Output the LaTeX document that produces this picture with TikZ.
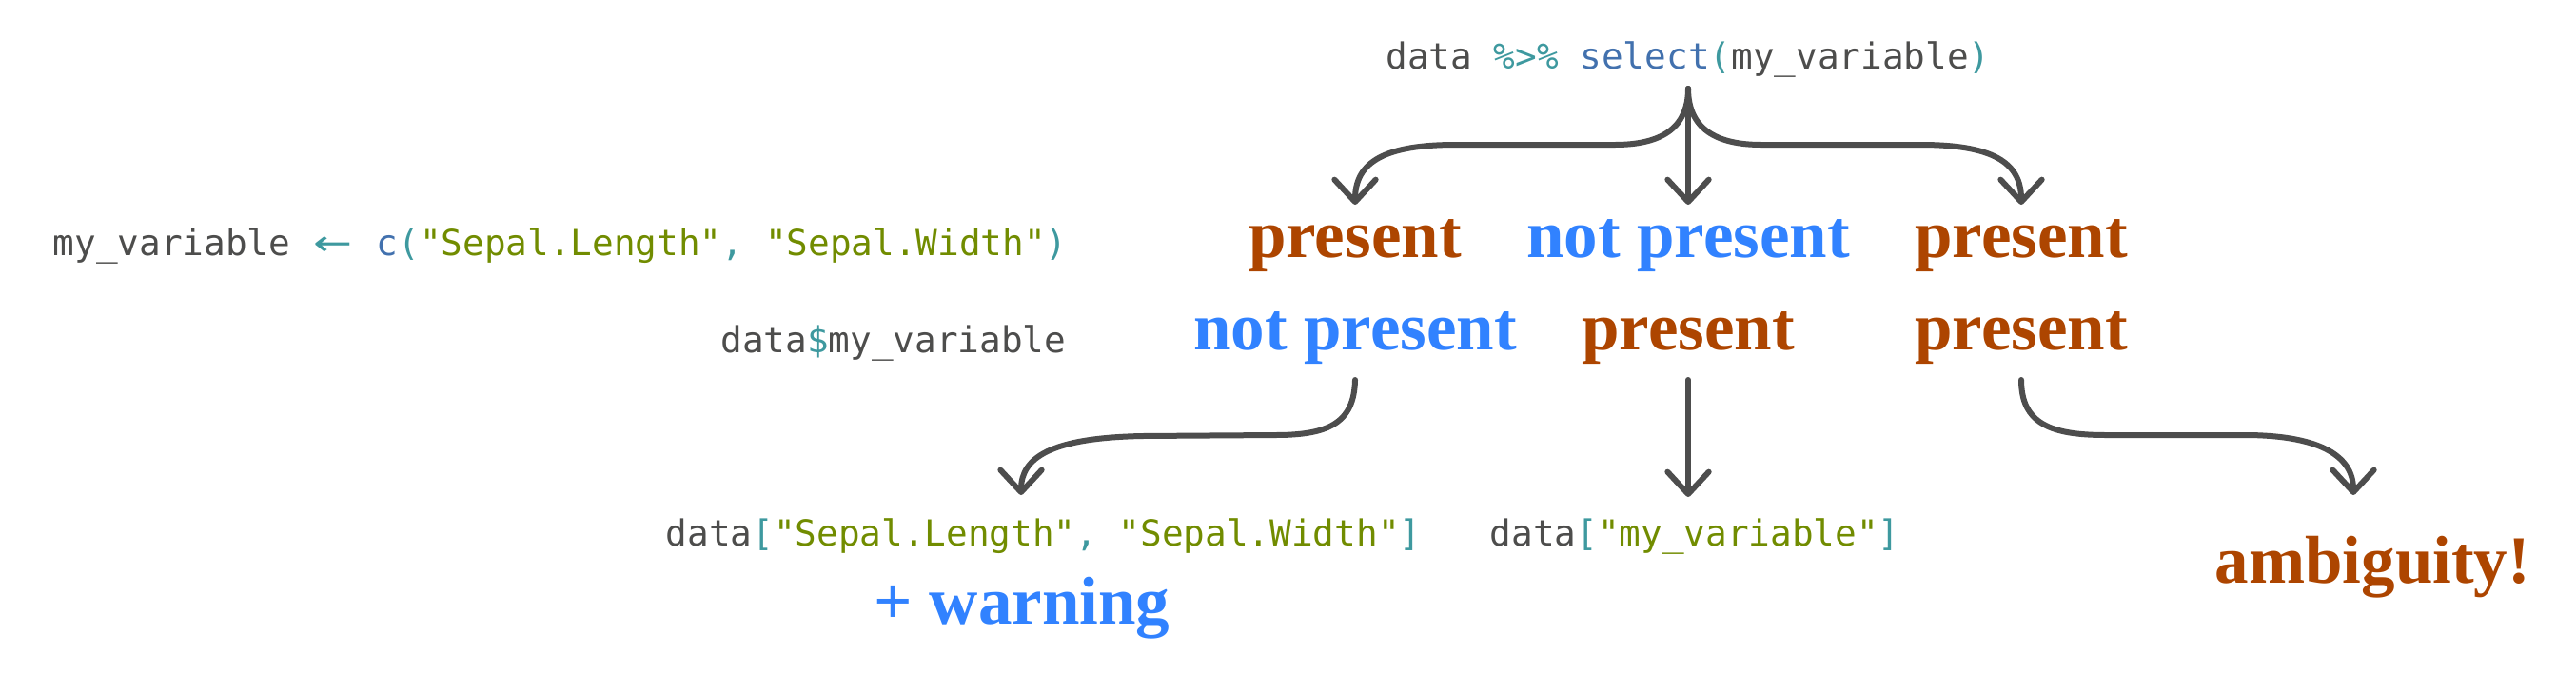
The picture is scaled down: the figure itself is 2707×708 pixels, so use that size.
\documentclass[tikz,border=0pt]{standalone}
\usepackage{fontspec}
\setmainfont{Liberation Serif}
\newfontfamily\codefont{DejaVu Sans Mono}
\newfontfamily\arrowfont{DejaVu Sans}
\usetikzlibrary{arrows.meta}
\definecolor{codefg}{HTML}{4D4D4C}
\definecolor{codeop}{HTML}{3E999F}
\definecolor{codefn}{HTML}{4271AE}
\definecolor{codestr}{HTML}{718C00}
\definecolor{orng}{HTML}{AD4500}
\definecolor{blu}{HTML}{3182FF}
\definecolor{arrg}{HTML}{4D4D4D}
\newcommand\CodeOp[1]{\textcolor{codeop}{#1}}
\newcommand\CodeFn[1]{\textcolor{codefn}{#1}}
\newcommand\CodeStr[1]{\textcolor{codestr}{#1}}
\newcommand\US{\char95 }
\tikzset{
  code/.style={font=\codefont\fontsize{11.3}{13}\selectfont, text=codefg, inner sep=0pt},
  big/.style={font=\bfseries\fontsize{21.3}{25}\selectfont, inner sep=0pt},
  pres/.style={big, text=orng},
  notp/.style={big, text=blu},
  arr/.style={draw=arrg, line width=1.8pt, line cap=round,
    -{Straight Barb[length=7pt,width=13pt,round]}},
}
\begin{document}
\begin{tikzpicture}[x=0.3pt,y=-0.3pt]
\useasboundingbox (0,0) rectangle (2707,708);
% code texts
\node[code, anchor=base] (top) at (1774,72)
  {data \CodeOp{\%>\%} \CodeFn{select}\CodeOp{(}my\US variable\CodeOp{)}};
\node[code, anchor=base west] (myvar) at (55,268)
  {my\US variable \CodeOp{\makebox[1.204em]{\arrowfont\scalebox{1.3}[1]{←}}} \CodeFn{c}\CodeOp{(}\CodeStr{"Sepal.Length"}\CodeOp{,} \CodeStr{"Sepal.Width"}\CodeOp{)}};
\node[code, anchor=base east] (dollar) at (1121,370)
  {data\CodeOp{\$}my\US variable};
% row 1
\node[pres, anchor=base] (a1) at (1424,270) {present};
\node[notp, anchor=base] (b1) at (1774,270) {not present};
\node[pres, anchor=base] (c1) at (2124,270) {present};
% row 2
\node[notp, anchor=base] (a2) at (1424,367) {not present};
\node[pres, anchor=base] (b2) at (1774,367) {present};
\node[pres, anchor=base] (c2) at (2124,367) {present};
% results
\node[code, anchor=base west] (res1) at (699,573)
  {data\CodeOp{[}\CodeStr{"Sepal.Length"}\CodeOp{,} \CodeStr{"Sepal.Width"}\CodeOp{]}};
\node[code, anchor=base west] (res2) at (1565,573)
  {data\CodeOp{[}\CodeStr{"my\US variable"}\CodeOp{]}};
\node[notp, anchor=base west] (warn) at (918,655) {+ warning};
\node[pres, anchor=base west] (amb) at (2327,612) {ambiguity!};
% arrow end points
\coordinate (e1) at (1073,520);
\coordinate (e2) at (1774,522);
\coordinate (e3) at (2473,520);
% fork
\draw[arr] (top.south |- {(0,93)}) .. controls (1774,135) and (1745,152) .. (1697,152)
  -- (1530,152) .. controls (1455,152) and (1424,170) .. (a1.north |- {(0,215)});
\draw[arr] (top.south |- {(0,93)}) -- (b1.north |- {(0,215)});
\draw[arr] (top.south |- {(0,93)}) .. controls (1774,135) and (1803,152) .. (1851,152)
  -- (2018,152) .. controls (2093,152) and (2124,170) .. (c1.north |- {(0,215)});
% lower arrows
\draw[arr] (a2.south |- {(0,399)}) .. controls (1423,445) and (1395,457) .. (1340,457)
  -- (1200,458) .. controls (1105,460) and (1073,480) .. (e1);
\draw[arr] (b2.south |- {(0,399)}) -- (e2);
\draw[arr] (c2.south |- {(0,399)}) .. controls (2124,445) and (2155,457) .. (2213,457)
  -- (2363,457) .. controls (2440,458) and (2473,480) .. (e3);
\end{tikzpicture}
\end{document}
